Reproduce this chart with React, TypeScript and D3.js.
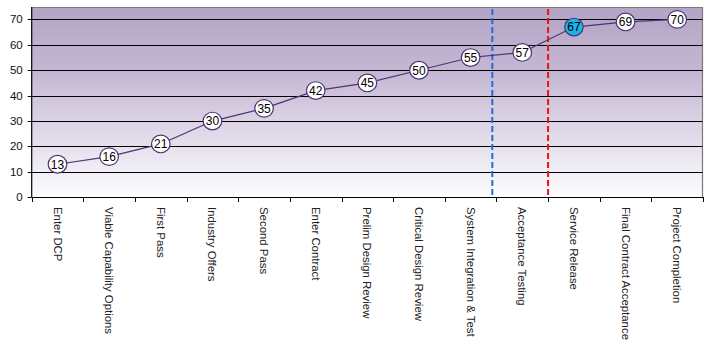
import React from "react";
import * as d3 from "d3";

const categories = [
  "Enter DCP",
  "Viable Capability Options",
  "First Pass",
  "Industry Offers",
  "Second Pass",
  "Enter Contract",
  "Prelim Design Review",
  "Critical Design Review",
  "System Integration & Test",
  "Acceptance Testing",
  "Service Release",
  "Final Contract Acceptance",
  "Project Completion",
];
const values = [13, 16, 21, 30, 35, 42, 45, 50, 55, 57, 67, 69, 70];
const highlighted = ["Service Release"];
const yTicks = [0, 10, 20, 30, 40, 50, 60, 70];
const markerPositions = [8.92, 10.0];
const markerColors = ["#1f6fd6", "#ee1111"];

const W = 726;
const H = 356;
const margin = { left: 31.7, right: 23, top: 7, bottom: 159 };

export default function App() {
  const x0 = margin.left;
  const x1 = W - margin.right;
  const y0 = H - margin.bottom;
  const y1 = margin.top;
  const band = d3.scaleBand<string>().domain(categories).range([x0, x1]).padding(0);
  const lin = d3.scaleLinear().domain([0, categories.length]).range([x0, x1]);
  const y = d3.scaleLinear().domain([0, 75]).range([y0 + 0.3, y1 - 0.3]);
  const cx = (c: string) => (band(c) as number) + band.bandwidth() / 2;
  const line = d3
    .line<number>()
    .x((_, i) => cx(categories[i]))
    .y((d) => y(d));
  const font = "'Liberation Sans', Arial, sans-serif";

  return (
    <div style={{ position: "fixed", left: 0, top: 0 }}>
      <svg width={W} height={H} style={{ display: "block", background: "#fff" }}>
        <defs>
          <linearGradient id="bg" x1="0" y1="0" x2="0" y2="1">
            <stop offset="0" stopColor="#b3a3c5" />
            <stop offset="0.35" stopColor="#c5b8d4" />
            <stop offset="0.97" stopColor="#faf9fc" />
            <stop offset="1" stopColor="#ffffff" />
          </linearGradient>
        </defs>
        <rect x={x0} y={y1} width={x1 - x0} height={y0 - y1} fill="url(#bg)" />
        <path
          d={`M${x0},${y1 + 0.5}H${x1 - 0.5}V${y0}`}
          fill="none"
          stroke="#7a7a7a"
          strokeWidth={1.2}
        />
        {yTicks
          .filter((t) => t > 0)
          .map((t) => (
            <line
              key={t}
              x1={x0}
              x2={x1 - 0.5}
              y1={Math.round(y(t)) + 0.5}
              y2={Math.round(y(t)) + 0.5}
              stroke="#000"
              strokeWidth={1}
            />
          ))}
        <line x1={x0} x2={x0} y1={y1} y2={y0} stroke="#000" strokeWidth={1.2} />
        {yTicks.map((t) => (
          <g key={t}>
            <line
              x1={x0 - 4}
              x2={x0}
              y1={Math.round(y(t)) + 0.5}
              y2={Math.round(y(t)) + 0.5}
              stroke="#000"
            />
            <text
              x={x0 - 9}
              y={y(t)}
              dy="0.35em"
              textAnchor="end"
              fontFamily={font}
              fontSize={11.5}
              fill="#111"
            >
              {t}
            </text>
          </g>
        ))}
        <line x1={x0} x2={x1} y1={y0 + 0.5} y2={y0 + 0.5} stroke="#000" strokeWidth={1.2} />
        {d3.range(categories.length + 1).map((i) => (
          <line
            key={i}
            x1={Math.round(lin(i)) + 0.5}
            x2={Math.round(lin(i)) + 0.5}
            y1={y0}
            y2={y0 + 5}
            stroke="#000"
          />
        ))}
        {categories.map((c) => (
          <text
            key={c}
            transform={`translate(${cx(c) - 4},${y0 + 10}) rotate(90)`}
            fontFamily={font}
            fontSize={11.4}
            fill="#222"
          >
            {c}
          </text>
        ))}
        {markerPositions.map((p, i) => (
          <line
            key={i}
            x1={lin(p)}
            x2={lin(p)}
            y1={y1 + 2}
            y2={y0 - 2}
            stroke={markerColors[i]}
            strokeWidth={2}
            strokeDasharray="6,3"
          />
        ))}
        <path d={line(values) as string} fill="none" stroke="#4e3470" strokeWidth={1.2} />
        {values.map((v, i) => {
          const c = categories[i];
          const hl = highlighted.includes(c);
          return (
            <g key={c}>
              <ellipse
                cx={cx(c)}
                cy={y(v)}
                rx={9.3}
                ry={8.8}
                fill={hl ? "#19b4ea" : "#fff"}
                stroke="#4e3470"
                strokeWidth={1.2}
              />
              <text
                x={cx(c)}
                y={y(v)}
                dy="0.36em"
                textAnchor="middle"
                fontFamily={font}
                fontSize={12}
                fill="#000"
              >
                {v}
              </text>
            </g>
          );
        })}
      </svg>
    </div>
  );
}
